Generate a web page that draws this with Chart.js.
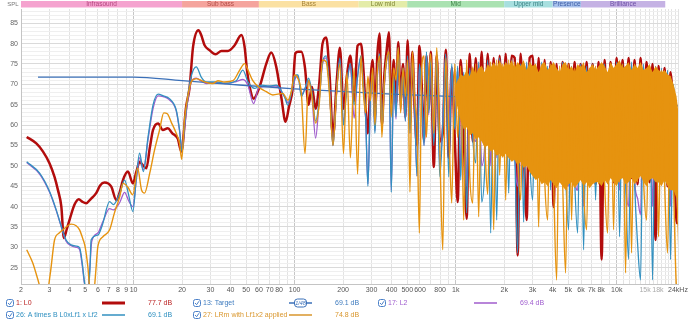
<!DOCTYPE html>
<html>
<head>
<meta charset="utf-8">
<title>SPL</title>
<script src="https://cdn.jsdelivr.net/npm/chart.js@4.4.1/dist/chart.umd.min.js"></script>
<style>
  html, body { margin: 0; padding: 0; background: #fff; }
</style>
</head>
<body>
<canvas id="spl" width="690" height="322"></canvas>
<script>
// ---- measurement data (Hz / dB) ----

// low end, each trace read at its own frequencies
const l0LowFreq = [2.17,2.49,2.74,3.01,3.23,3.39,3.56,3.69,3.85,4.0,4.3,4.57,4.8,5.08,5.4,5.86,6.2,6.6,7.27,7.81,8.2,8.59,9.23,9.9,10.4,10.9,11.4,12.0,12.6,13.2,14.2,15.2,16.3,17.4,18.8,19.8,21.2,22.3,23.4,25.3,26.3,27.6,29.6,32.3,35.1,38.5,42.4,46.7,48.9,50.6,53.1,55.6,60.6,66.7,71.6,76.9,82.6,87.9,92.2,97.6,101];
const l0LowDb = [57.1,55.5,53.5,50.6,47.3,44.1,40.0,32.3,34.5,36.7,40.5,41.8,41.2,40.8,41.8,43.3,45.2,45.9,44.9,41.6,43.5,46.5,48.6,45.7,48.5,51.0,50.2,49.4,54.3,58.8,60.4,58.8,59.2,58.0,56.7,53.5,64.5,69.4,79.2,83.3,82.1,79.6,78.4,77.4,78.2,78.2,79.6,82.1,79.2,73.5,68.6,66.5,69.4,75.1,77.8,74.3,66.9,60.8,64.5,69.4,77.6];

const abLowFreq = [2.17,2.61,3.01,3.31,3.56,3.81,4.1,4.4,4.62,4.8,4.96,5.05,5.2,5.35,5.45,6.0,6.4,7.1,7.5,8.2,8.8,9.3,9.9,10.4,10.9,11.5,12.3,13.2,14.2,15.3,16.7,18.4,19.3,20.0,20.7,21.7,22.8,24.5,26.3,28.3,32.6,37,43.4,47.7,51.3,56.5,62,70,76.9,86.6,90.8,97.6,102];
const abLowDb = [51.0,48.2,43.7,39.2,35.1,31.8,30.6,30.3,29.9,26.2,21.3,19.5,19.5,24,31.8,33.0,35.5,41.2,40.5,43.3,46.5,43,38.8,47,53.1,48.6,57.1,64.9,67.6,67.2,66.5,63.7,58.8,53.5,60,67,72,74.3,71.8,70.6,70.6,70.3,70.9,73.5,70.6,69,69.8,69.6,69.8,66.9,64.9,69.8,72.3];

const l2LowFreq = [2.17,2.61,3.01,3.31,3.56,3.81,4.1,4.4,4.62,4.8,4.96,5.05,5.2,5.35,5.5,6.0,6.4,7.1,7.5,8.2,8.8,9.3,9.9,10.4,10.9,11.5,12.3,13.2,14.2,15.3,16.7,18.4,19.3,20.0,20.7,21.7,22.8,24.5,26.3,28.3,32.6,37,43.4,47.7,51.3,55.6,60,70,76.9,86.6,90.8,97.6,102];
const l2LowDb = [50.8,48.0,43.5,39.0,35.0,31.5,30.4,30.0,29.5,25.5,21.0,19.5,19.5,25,31.5,33.5,36,39.5,39.2,41,43.5,41.5,40,46.5,52,49,56.5,64,67.2,67,66.2,63.5,58.5,53.8,59,66,70.5,71.5,70.8,70.2,70.4,70.2,70.7,71.2,69.8,65.3,69.2,69.5,69.6,67,65.5,69.5,71.8];

const lrmLowFreq = [2.17,2.37,2.55,2.7,2.9,3.05,3.23,3.45,3.64,4.1,4.4,4.62,4.85,5.0,5.2,5.35,5.65,5.85,6.0,6.45,7.1,7.6,8.2,8.6,9.2,9.9,10.6,11.2,11.7,12.6,13.5,14.5,15.4,16.2,17.1,18.4,19.3,19.9,20.7,21.7,22.8,24.5,27.6,31,33.4,36.7,41.4,45.6,48.9,51.3,55,59.4,66.7,73.2,84.5,90.8,95,100];
const lrmLowDb = [29.4,26.1,22,19,19,24,31.8,33.5,34.3,35.7,35.3,34.3,32,30.2,25.3,20,19,25,30.2,32.6,34.3,38.4,42.4,45.7,44.8,42.9,49.4,44.1,43.3,48.2,53.9,58.8,63.0,62.8,60.8,58,55.5,51.6,61.2,67,70.6,71.4,70.6,70.2,70.9,70.6,70.9,73.5,75.1,73.5,70.9,69.4,68.2,67.4,67.8,66.1,68,72.3];

// 105 Hz - 680 Hz, shared frequencies
const midFreq = [105,110,116,122,128,135,142,149,157,165,173,182,191,201,211,222,234,246,258,267,276,285,295,305,315,326,337,348,360,372,385,398,412,426,440,455,471,487,503,520,538,556,575,595,615,636,658,680];
const l0Mid = [78,78,74,65,69.4,64,70,80,81.5,72,57,70,79,64,72,77,66,79.5, 80,74,64,58,70,76,62,77,82.5,60,72,78,82.8,63,76,65,80.4,66,75,62,80.8,60,78,64,55,79.4,70,56,77,64];
const abMid = [72.3,67,69,71.5,68,61,66,75.5,77,68,55,68,76.5,60,70,75,65,72, 77,70,62,45,66,73,58,72,77.5,58.8,70,76,78,43.5,72,62,79,64,74,61,77,58,76,65,47.5,75,68,55,78,63];
const l2Mid = [72,67.5,69,71,67,56.8,66,75,76.5,68,55,68,76,60.5,70,74.5,61.7,72, 76.5,70,62,45.5,65.5,72.5,58.5,71.5,77,59,69.5,75.5,77.5,44,71.5,61.5,78.5,63.5,73.5,61,76.5,58,75.5,64.5,47.5,74.5,67.5,55,77.5,62.5];
const lrmMid = [71.4,68,53,71,67,60.5,65,76,75.5,67,55,68,75,53,73,52,74,48, 77,68,63,72,66,74,60,73,77,57,70,76,78,62,74,71,79,63,74,67,76,43.6,78,66,60,33.5,74,77,57,72];

// 700 Hz - 24 kHz, shared frequencies
const hfFreq = [700,731,763,796,831,867,905,945,986,1029,1074,1121,1170,1222,1275,1331,1389,1450,1514,1580,1649,1721,1797,1875,1957,2043,2133,2226,2323,2425,2531,2642,2758,2878,3004,3136,3273,3416,3566,3722,3885,4055,4233,4418,4612,4814,5024,5244,5474,5714,5964,6225,6498,6782,7079,7389,7713,8051,8403,8771,9155,9556,9975,10411,10867,11343,11840,12358,12900,13465,14054,14670,15312,15983,16683,17413,18176,18972,19803,20670,21575,22520,23506,24000];
const l0Hf = [78,49.7,77,56,58,78.5,52,74,57,41.1, 76,58,37,77.5,56,76.5,59,78,55,77.5, 58,76.5,54,77,56,77.5,55,77,76.5,28, 77.5,55,36.7,76.5,77,54,76.5,52,76,51, 75.5,39.9,75,49,75.5,47,75,48,75.5,46, 75,47,75.5,46,75,45.5,75.5,27,76,47, 75.5,46,76.5,47,76,46,76.5,47,76,45.5, 76.5,47,75.5,46,75,31.8,74.5,46,74,45, 73,60,36,36];
const abHf = [76,55,78,47.3,60,77.5,47.3,75,59,74.5, 46.5,73,38.4,74,57,50.7,75.5,41.1,49,76, 33.5,75,36.7,76.5,53,75.5,43.3,76,54,28.6, 75,36.2,75.5,52,41.6,74.5,48,75.5,49,74.5, 44.1,75,50,47,75.5,48,34.3,74.5,47,33.5, 75,29.4,74.5,46,75,41.6,74,46,75,45.5, 74.5,47,75.5,32.6,75,46.5,27,75.5,46,31, 22,75,46,74.5,22,74.5,46,74,45,73.5, 27,70,45,40];
const l2Hf = [75.5,56,77.5,50,60.5,77,58.8,74.5,60,74, 50,72.5,45,73.5,58,56,75,50,55,75.5, 50,74.5,52,76,54,75,52,75.5,53,45, 74.5,50,75,53,50,74,50,75,49.5,74, 48,74.5,50.5,48,75,49,45,74,48,44, 74.5,40,74,47,74.5,46,73.5,46.5,74.5,46, 74,47.5,75,44,74.5,47,40,75,46.5,42, 38,74.5,47,74,40,74,46.5,73.5,46,73, 40,69.5,46,40];
const lrmHf = [77.5,58,79,55,29.4,76.5,60,40.9,75,57, 74.5,36.7,76,47.7,40.9,75,37.5,74.5,56,43, 75.5,34.3,76,47.7,75,41.6,76,52,75.5,53, 41.6,75,51,75.5,50,75,35,74.5,47,36.7, 75,46,22,74.5,46,23.7,75,36.7,74,46, 74.5,45,34.3,74,46.5,74.5,45.5,74,46,33.5, 75,34.3,74.5,46,75,23.7,74.5,28.6,75,46, 74.5,46.5,36.7,74,47,74,32.6,73.5,46,28.6, 72,45,20,19];

// upper and lower edge of the solid part of the LRm trace, from 986 Hz up
const bandStart = 8;
const lrmBandTop = [69.5,71,72.5,72,73.5,72,74.5,72.5,74,74.5, 73,75,74,75.5,74,76,74,75.5,74.5,76, 74,75.5,74.5,76,73.5,75.5,74.5,75,73,75, 75.5,73.5,74.5,75.5,74,73,75,75.5,73.5,74.5, 73,75,74,75.5,73,74,75,73.5,74.5,75.5, 74.5,73,75.5,74,75,76,74,74.5,75.5,73.5, 75,74,75.5,73.5,74,75,73,74.5,73.5,73, 73.5,72.5,72,70,67,64];
const lrmBandLow = [67.5,64,61,59,59.5,57.5,58,56.5,57,56, 54.5,55,53.5,54,52.5,53,52,53,52,51, 51.5,50,51,49.5,50,48.5,47.5,46.5,47,45.5, 46,45,46.5,45.5,44.5,46,45,44,45.5,46, 44.5,45.5,46.5,45,46,44.5,45.5,46,46,45, 46.5,45.5,47,46,45,46.5,47,45.5,46,47, 45.5,46.5,47.5,46,45,46.5,47,46,46,45, 46.5,45,44,44,42,30];

// target curve
const targetFreq = [2.55,10,20,40,100,400,1000,5000,10000,24000];
const targetDb = [71.8,71.8,70.9,70.0,68.9,67.6,67.0,66.0,65.5,64.7];

// axes
const gridFreq = [2,3,4,5,6,7,8,9,10,20,30,40,50,60,70,80,90,100,200,300,400,500,600,700,800,900,1000,2000,3000,4000,5000,6000,7000,8000,9000,10000,11000,12000,13000,14000,15000,16000,17000,18000,19000,20000,21000,22000,23000,24000];
const xTickFreq = [2,3,4,5,6,7,8,9,10,20,30,40,50,60,70,80,100,200,300,400,500,600,800,1000,2000,3000,4000,5000,6000,7000,8000,10000,15000,18000,24000];
const xTickText = ['2','3','4','5','6','7','8','9','10','20','30','40','50','60','70','80','100','200','300','400','500','600','800','1k','2k','3k','4k','5k','6k','7k','8k','10k','15k','18k','24kHz'];
const splTicks = [25,30,35,40,45,50,55,60,65,70,75,80,85];

// frequency bands along the top
const bandEdges = [2,20,60,250,500,2000,4000,6000,20000];
const bandNames = ['Infrasound','Sub bass','Bass','Low mid','Mid','Upper mid','Presence','Brilliance'];
const bandFill = ['#f5a3cf','#f5a49d','#fbe1a3','#e4eca9','#aae2b1','#a7dfdf','#a9c2ec','#c5b2e4'];
const bandInk = ['#b5457f','#b24a45','#a48235','#7f8532','#3d8446','#3a8385','#3c5ca5','#6b4ca5'];

// legend
const legendNames = ['1: L0','13: Target','17: L2','26: A times B L0xLf1 x Lf2','27: LRm with Lf1x2 applied'];
const legendLevels = ['77.7 dB','69.1 dB','69.4 dB','69.1 dB','74.8 dB'];

const colL0 = '#b20c0c';
const colTarget = '#3b70b8';
const colL2 = '#a05ccc';
const colAB = '#3290c0';
const colLrm = '#e6930f';

const pts = (fs, vs) => fs.map((f, i) => ({ x: f, y: vs[i] }));

const l0Data = [...pts(l0LowFreq, l0LowDb), ...pts(midFreq, l0Mid), ...pts(hfFreq, l0Hf)];
const abData = [...pts(abLowFreq, abLowDb), ...pts(midFreq, abMid), ...pts(hfFreq, abHf)];
const l2Data = [...pts(l2LowFreq, l2LowDb), ...pts(midFreq, l2Mid), ...pts(hfFreq, l2Hf)];
const lrmData = [...pts(lrmLowFreq, lrmLowDb), ...pts(midFreq, lrmMid), ...pts(hfFreq, lrmHf)];
const bandFreq = hfFreq.slice(bandStart);

const FONT = '"Liberation Sans", Arial, sans-serif';
Chart.defaults.font.family = FONT;

function line(data, color, width, order) {
  return {
    data, order,
    borderColor: color,
    borderWidth: width,
    pointRadius: 0,
    cubicInterpolationMode: 'monotone',
    fill: false
  };
}

function checkbox(ctx, x, y) {
  ctx.strokeStyle = '#4a80c8';
  ctx.lineWidth = 1;
  ctx.beginPath();
  ctx.roundRect(x + 0.5, y - 3.5, 7, 7, 2);
  ctx.stroke();
  ctx.beginPath();
  ctx.moveTo(x + 2, y);
  ctx.lineTo(x + 3.6, y + 1.7);
  ctx.lineTo(x + 6, y - 1.8);
  ctx.stroke();
}

const decor = {
  id: 'decor',
  afterDraw(chart) {
    const ctx = chart.ctx;
    const xs = chart.scales.x;
    const area = chart.chartArea;
    ctx.save();

    // band strip
    ctx.textAlign = 'center';
    ctx.textBaseline = 'middle';
    ctx.font = '6.5px ' + FONT;
    for (let i = 0; i < bandNames.length; i++) {
      const x0 = Math.max(xs.getPixelForValue(bandEdges[i]), area.left);
      const x1 = xs.getPixelForValue(bandEdges[i + 1]);
      ctx.fillStyle = bandFill[i];
      ctx.fillRect(x0, 1, x1 - x0, 6.5);
      ctx.fillStyle = bandInk[i];
      ctx.fillText(bandNames[i], (x0 + x1) / 2, 4.6);
    }
    ctx.fillStyle = '#777';
    ctx.font = '6px ' + FONT;
    ctx.fillText('SPL', 13, 4.6);

    // frequency labels
    ctx.font = '7px ' + FONT;
    xTickFreq.forEach((f, i) => {
      ctx.fillStyle = (f === 15000 || f === 18000) ? '#aaa' : '#555';
      ctx.fillText(xTickText[i], xs.getPixelForValue(f), 290.5);
    });

    // legend
    const cols = [6, 193, 378];
    const rows = [303, 315];
    const ink = [colL0, colTarget, colL2, colAB, '#d9962c'];
    const textInk = ['#bb2222', '#3f7cbf', '#a160cf', '#2f90c0', '#d9962c'];
    const place = [[0, 0], [1, 0], [2, 0], [0, 1], [1, 1]];
    ctx.textAlign = 'left';
    legendNames.forEach((name, i) => {
      const x = cols[place[i][0]];
      const y = rows[place[i][1]];
      checkbox(ctx, x, y);
      ctx.fillStyle = textInk[i];
      ctx.font = '7px ' + FONT;
      ctx.fillText(name, x + 10, y + 0.5);
      const lx = x + 96;
      ctx.strokeStyle = ink[i];
      ctx.lineWidth = i === 0 ? 3 : 1.5;
      ctx.beginPath();
      ctx.moveTo(lx, y);
      ctx.lineTo(lx + 23, y);
      ctx.stroke();
      if (i === 1) {
        ctx.fillStyle = '#fff';
        ctx.lineWidth = 1;
        ctx.beginPath();
        ctx.roundRect(lx + 5.5, y - 4, 12, 8, 3);
        ctx.fill();
        ctx.stroke();
        ctx.fillStyle = colTarget;
        ctx.font = 'italic 5.5px ' + FONT;
        ctx.textAlign = 'center';
        ctx.fillText('1/48', lx + 11.5, y + 0.5);
        ctx.textAlign = 'left';
      }
      ctx.fillStyle = textInk[i];
      ctx.font = '7px ' + FONT;
      ctx.fillText(legendLevels[i], x + 142, y + 0.5);
    });
    ctx.restore();
  }
};

new Chart(document.getElementById('spl'), {
  type: 'line',
  data: {
    datasets: [
      line(lrmData, colLrm, 1.4, 0),
      { data: pts(bandFreq, lrmBandTop), order: 1, borderWidth: 0, pointRadius: 0, tension: 0, fill: false },
      { data: pts(bandFreq, lrmBandLow), order: 1, borderWidth: 0, pointRadius: 0, tension: 0, fill: '-1', backgroundColor: colLrm },
      line(pts(targetFreq, targetDb), colTarget, 1.3, 2),
      line(abData, colAB, 1.3, 3),
      line(l2Data, colL2, 1.3, 4),
      line(l0Data, colL0, 2.5, 5)
    ]
  },
  options: {
    responsive: false,
    devicePixelRatio: 1,
    animation: false,
    events: [],
    layout: { padding: { top: 9, right: 12, left: 0, bottom: 0 } },
    plugins: { legend: { display: false }, tooltip: { enabled: false } },
    scales: {
      x: {
        type: 'logarithmic',
        min: 2,
        max: 24000,
        afterBuildTicks: s => { s.ticks = gridFreq.map(v => ({ value: v })); },
        afterFit: s => { s.height = 38; },
        ticks: { display: false },
        border: { display: true, color: '#c4c4c4' },
        grid: {
          drawTicks: false,
          color: c => [10, 100, 1000, 10000].includes(c.tick.value) ? '#c6c6c6' : '#e3e3e3'
        }
      },
      y: {
        min: 21,
        max: 88.5,
        afterBuildTicks: s => {
          const t = [];
          for (let v = 21; v <= 88; v++) t.push({ value: v });
          s.ticks = t;
        },
        afterFit: s => { s.width = 21; },
        border: { display: true, color: '#c4c4c4' },
        ticks: {
          autoSkip: false,
          padding: 3,
          color: '#666',
          font: { size: 7 },
          callback: v => splTicks.includes(v) ? String(v) : ''
        },
        grid: {
          drawTicks: false,
          color: c => splTicks.includes(c.tick.value) ? '#dadada' : '#efefef'
        }
      }
    }
  },
  plugins: [decor]
});
</script>
</body>
</html>
